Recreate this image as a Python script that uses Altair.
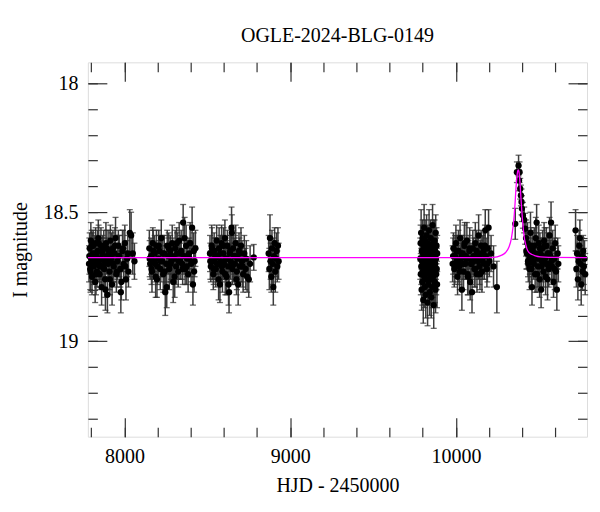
import altair as alt
import pandas as pd

# ---------------- data ----------------
S1_t = [7786, 7790, 7793, 7797, 7800, 7804, 7808, 7811, 7815, 7819, 7823, 7826, 7830, 7834, 7838,
        7842, 7846, 7850, 7854, 7858, 7862, 7866, 7870, 7875, 7879, 7883, 7888, 7892, 7897, 7901,
        7906, 7910, 7915, 7920, 7925, 7930, 7935, 7940, 7946, 7951, 7957, 7963, 7969, 7975, 7981,
        7988, 7995, 8002, 8009, 8016, 8024, 8032, 8040, 8050, 8060]
S1_m = [18.70, 18.64, 18.72, 18.61, 18.68, 18.75, 18.66, 18.63, 18.71, 18.69, 18.77, 18.62, 18.67, 18.73, 18.65,
        18.60, 18.70, 18.74, 18.68, 18.63, 18.79, 18.66, 18.71, 18.64, 18.69, 18.76, 18.62, 18.67, 18.82, 18.70,
        18.65, 18.73, 18.61, 18.68, 18.78, 18.64, 18.71, 18.66, 18.60, 18.74, 18.69, 18.63, 18.67, 18.72, 18.77,
        18.65, 18.70, 18.62, 18.76, 18.68, 18.73, 18.58, 18.59, 18.66, 18.69]
S1_e = [0.07, 0.06, 0.08, 0.07, 0.06, 0.07, 0.08, 0.06, 0.07, 0.07, 0.08, 0.06, 0.07, 0.06, 0.08,
        0.07, 0.07, 0.06, 0.08, 0.07, 0.07, 0.06, 0.08, 0.07, 0.06, 0.07, 0.08, 0.07, 0.07, 0.06,
        0.08, 0.07, 0.06, 0.07, 0.08, 0.07, 0.06, 0.07, 0.08, 0.07, 0.07, 0.06, 0.08, 0.07, 0.07,
        0.08, 0.06, 0.07, 0.08, 0.07, 0.06, 0.09, 0.09, 0.08, 0.07]
S1x_t = [7788, 7795, 7802, 7813, 7821, 7828, 7836, 7844, 7852, 7860, 7868, 7877, 7885, 7894, 7903,
         7912, 7922, 7932, 7943, 7954, 7966, 7978, 7991, 8005, 8020]
S1x_m = [18.67, 18.73, 18.63, 18.70, 18.66, 18.74, 18.69, 18.62, 18.71, 18.68, 18.65, 18.72, 18.80, 18.64, 18.69,
         18.76, 18.66, 18.70, 18.63, 18.73, 18.67, 18.81, 18.64, 18.71, 18.66]
S1x_e = [0.07, 0.08, 0.06, 0.07, 0.07, 0.08, 0.06, 0.07, 0.08, 0.07, 0.06, 0.07, 0.08, 0.07, 0.07,
         0.06, 0.08, 0.07, 0.07, 0.06, 0.08, 0.08, 0.07, 0.06, 0.07]

S2_t = [8150, 8155, 8160, 8166, 8171, 8177, 8182, 8188, 8193, 8199, 8205, 8210, 8216, 8222, 8228,
        8234, 8240, 8246, 8252, 8258, 8264, 8270, 8276, 8282, 8288, 8294, 8300, 8306, 8312, 8318,
        8324, 8330, 8336, 8342, 8348, 8354, 8360, 8366, 8372, 8378, 8384, 8390, 8396, 8402, 8408,
        8413, 8418, 8423, 8428]
S2_m = [18.64, 18.70, 18.67, 18.73, 18.62, 18.69, 18.66, 18.75, 18.63, 18.71, 18.68, 18.65, 18.72, 18.60, 18.69,
        18.74, 18.66, 18.81, 18.70, 18.63, 18.67, 18.72, 18.65, 18.69, 18.62, 18.77, 18.68, 18.64, 18.71, 18.66,
        18.73, 18.61, 18.69, 18.65, 18.70, 18.54, 18.67, 18.72, 18.63, 18.68, 18.74, 18.66, 18.62, 18.70, 18.56,
        18.78, 18.65, 18.69, 18.64]
S2_e = [0.07, 0.06, 0.07, 0.08, 0.06, 0.07, 0.07, 0.08, 0.06, 0.07, 0.07, 0.06, 0.08, 0.07, 0.06,
        0.07, 0.07, 0.09, 0.07, 0.06, 0.07, 0.08, 0.06, 0.07, 0.07, 0.08, 0.06, 0.07, 0.07, 0.08,
        0.06, 0.07, 0.07, 0.08, 0.06, 0.07, 0.07, 0.06, 0.08, 0.07, 0.07, 0.06, 0.08, 0.07, 0.08,
        0.08, 0.07, 0.06, 0.07]
S2x_t = [8152, 8163, 8174, 8185, 8196, 8207, 8219, 8231, 8243, 8255, 8267, 8279, 8291, 8303, 8315,
         8327, 8339, 8351, 8363, 8375, 8393, 8420]
S2x_m = [18.68, 18.72, 18.65, 18.70, 18.76, 18.63, 18.69, 18.66, 18.73, 18.79, 18.64, 18.70, 18.67, 18.75, 18.62,
         18.69, 18.66, 18.72, 18.60, 18.71, 18.68, 18.73]
S2x_e = [0.07, 0.06, 0.08, 0.07, 0.07, 0.06, 0.08, 0.07, 0.07, 0.08, 0.06, 0.07, 0.07, 0.08, 0.06,
         0.07, 0.07, 0.06, 0.08, 0.07, 0.07, 0.08]

S3_t = [8516, 8521, 8526, 8531, 8536, 8541, 8546, 8551, 8556, 8561, 8566, 8571, 8576, 8581, 8586,
        8591, 8596, 8601, 8606, 8611, 8616, 8621, 8626, 8631, 8636, 8641, 8646, 8651, 8656, 8661,
        8666, 8671, 8676, 8681, 8686, 8691, 8697, 8703, 8709, 8716, 8723, 8731, 8740, 8750, 8758, 8780]
S3_m = [18.66, 18.71, 18.63, 18.69, 18.74, 18.65, 18.68, 18.72, 18.61, 18.67, 18.70, 18.64, 18.78, 18.69, 18.62,
        18.73, 18.66, 18.70, 18.60, 18.68, 18.75, 18.63, 18.71, 18.81, 18.66, 18.69, 18.56, 18.72, 18.64, 18.67,
        18.70, 18.62, 18.76, 18.68, 18.78, 18.65, 18.71, 18.63, 18.69, 18.74, 18.66, 18.72, 18.75, 18.76, 18.70, 18.675]
S3_e = [0.07, 0.06, 0.08, 0.07, 0.06, 0.07, 0.08, 0.07, 0.06, 0.07, 0.07, 0.08, 0.07, 0.06, 0.07,
        0.08, 0.07, 0.06, 0.07, 0.08, 0.07, 0.06, 0.07, 0.08, 0.07, 0.07, 0.08, 0.06, 0.07, 0.07,
        0.08, 0.07, 0.06, 0.07, 0.08, 0.07, 0.06, 0.07, 0.08, 0.07, 0.07, 0.08, 0.06, 0.07, 0.07, 0.05]
S3x_t = [8518, 8528, 8538, 8548, 8558, 8568, 8578, 8588, 8598, 8608, 8618, 8628, 8638, 8648, 8658,
         8668, 8678, 8694, 8712, 8735]
S3x_m = [18.69, 18.64, 18.72, 18.67, 18.70, 18.76, 18.66, 18.71, 18.63, 18.74, 18.68, 18.78, 18.65, 18.58, 18.70,
         18.67, 18.73, 18.66, 18.71, 18.68]
S3x_e = [0.07, 0.08, 0.06, 0.07, 0.07, 0.08, 0.07, 0.06, 0.07, 0.08, 0.07, 0.08, 0.06, 0.07, 0.07,
         0.08, 0.07, 0.06, 0.08, 0.07]

S4_t = [8870, 8874, 8878, 8882, 8886, 8890, 8894, 8898, 8902, 8906, 8910, 8914, 8918, 8922, 8926, 8930]
S4_m = [18.66, 18.72, 18.60, 18.69, 18.75, 18.64, 18.70, 18.79, 18.67, 18.62, 18.73, 18.68, 18.65, 18.71, 18.63, 18.69]
S4_e = [0.07, 0.08, 0.09, 0.07, 0.06, 0.07, 0.08, 0.07, 0.07, 0.06, 0.08, 0.07, 0.07, 0.06, 0.07, 0.07]

S5_t = [9785, 9787, 9788, 9790, 9791, 9793, 9794, 9796, 9797, 9799, 9800, 9802, 9803, 9805, 9806,
        9808, 9809, 9811, 9812, 9814, 9815, 9817, 9818, 9820, 9821, 9823, 9824, 9826, 9827, 9829,
        9830, 9832, 9833, 9835, 9836, 9838, 9839, 9841, 9842, 9844, 9845, 9847, 9848, 9850, 9851,
        9853, 9854, 9856, 9857, 9859, 9860, 9862, 9863, 9865, 9866, 9868, 9869, 9871, 9872, 9874,
        9875, 9877, 9878, 9880, 9881, 9883, 9884, 9886, 9887]
S5_m = [18.68, 18.62, 18.74, 18.58, 18.71, 18.80, 18.65, 18.69, 18.77, 18.60, 18.73, 18.66, 18.84, 18.63, 18.70,
        18.56, 18.75, 18.67, 18.79, 18.61, 18.72, 18.68, 18.82, 18.64, 18.70, 18.59, 18.76, 18.66, 18.73, 18.85,
        18.62, 18.69, 18.78, 18.65, 18.71, 18.57, 18.74, 18.67, 18.81, 18.63, 18.70, 18.76, 18.60, 18.68, 18.83,
        18.66, 18.72, 18.64, 18.79, 18.55, 18.69, 18.75, 18.62, 18.71, 18.86, 18.67, 18.73, 18.61, 18.77, 18.65,
        18.70, 18.80, 18.58, 18.68, 18.74, 18.63, 18.72, 18.78, 18.66]
S5_e = [0.08, 0.07, 0.08, 0.09, 0.07, 0.08, 0.07, 0.08, 0.09, 0.07, 0.08, 0.07, 0.09, 0.08, 0.07,
        0.09, 0.08, 0.07, 0.08, 0.08, 0.07, 0.08, 0.09, 0.07, 0.08, 0.08, 0.07, 0.08, 0.09, 0.09,
        0.07, 0.08, 0.08, 0.07, 0.09, 0.08, 0.07, 0.08, 0.09, 0.07, 0.08, 0.08, 0.07, 0.09, 0.08,
        0.07, 0.08, 0.09, 0.08, 0.08, 0.07, 0.08, 0.09, 0.07, 0.09, 0.08, 0.07, 0.08, 0.08, 0.07,
        0.08, 0.09, 0.07, 0.08, 0.08, 0.07, 0.08, 0.09, 0.07]

S6_t = [9980, 9985, 9990, 9995, 10000, 10005, 10010, 10015, 10020, 10025, 10030, 10036, 10041, 10046, 10051,
        10056, 10061, 10066, 10071, 10076, 10081, 10086, 10091, 10097, 10102, 10107, 10112, 10117, 10122, 10127,
        10132, 10137, 10142, 10147, 10152, 10157, 10162, 10167, 10172, 10177, 10182, 10187, 10192, 10197, 10202,
        10212, 10227, 10247]
S6_m = [18.70, 18.64, 18.72, 18.67, 18.62, 18.69, 18.75, 18.65, 18.71, 18.60, 18.68, 18.80, 18.66, 18.73, 18.63,
        18.70, 18.67, 18.61, 18.74, 18.68, 18.65, 18.77, 18.70, 18.81, 18.64, 18.69, 18.72, 18.62, 18.67, 18.74,
        18.66, 18.59, 18.71, 18.68, 18.63, 18.73, 18.69, 18.65, 18.70, 18.57, 18.67, 18.72, 18.64, 18.56, 18.69,
        18.66, 18.71, 18.79]
S6_e = [0.07, 0.06, 0.07, 0.08, 0.07, 0.06, 0.07, 0.08, 0.07, 0.07, 0.06, 0.08, 0.07, 0.07, 0.08,
        0.06, 0.07, 0.07, 0.08, 0.07, 0.06, 0.07, 0.08, 0.08, 0.07, 0.06, 0.07, 0.08, 0.07, 0.07,
        0.06, 0.08, 0.07, 0.07, 0.06, 0.08, 0.07, 0.07, 0.06, 0.08, 0.07, 0.07, 0.08, 0.07, 0.06,
        0.07, 0.08, 0.10]
S6x_t = [9983, 9993, 10003, 10013, 10023, 10033, 10043, 10053, 10063, 10073, 10083, 10094, 10105, 10115, 10125,
         10135, 10145, 10160, 10175, 10190]
S6x_m = [18.67, 18.71, 18.65, 18.69, 18.73, 18.66, 18.70, 18.62, 18.68, 18.75, 18.64, 18.70, 18.67, 18.72, 18.65,
         18.69, 18.74, 18.66, 18.63, 18.70]
S6x_e = [0.07, 0.07, 0.06, 0.08, 0.07, 0.07, 0.06, 0.08, 0.07, 0.07, 0.08, 0.06, 0.07, 0.07, 0.08,
         0.07, 0.06, 0.07, 0.08, 0.07]

S7_t = [10358, 10368, 10378, 10381, 10384, 10388, 10392, 10396, 10398, 10404, 10412, 10418,
        10423, 10428, 10432, 10437, 10441, 10446, 10450, 10455, 10459, 10464, 10468, 10473, 10478, 10482, 10487,
        10491, 10496, 10500, 10505, 10509, 10514, 10519, 10523, 10528, 10532, 10537, 10541, 10546, 10551, 10555,
        10560, 10565, 10569, 10574, 10579, 10584, 10589, 10594, 10599, 10604, 10609, 10614, 10618]
S7_m = [18.545, 18.345, 18.319, 18.377, 18.345, 18.409, 18.435, 18.46, 18.486, 18.512, 18.53, 18.564,
        18.60, 18.66, 18.62, 18.70, 18.64, 18.68, 18.58, 18.72, 18.79, 18.65, 18.69, 18.63, 18.74, 18.60, 18.54,
        18.67, 18.71, 18.62, 18.76, 18.66, 18.80, 18.69, 18.64, 18.73, 18.61, 18.68, 18.75, 18.63, 18.70, 18.66,
        18.72, 18.59, 18.67, 18.54, 18.71, 18.64, 18.77, 18.68, 18.62, 18.73, 18.80, 18.66, 18.70]
S7_e = [0.06, 0.04, 0.04, 0.04, 0.04, 0.04, 0.04, 0.05, 0.05, 0.05, 0.05, 0.06,
        0.07, 0.06, 0.08, 0.07, 0.07, 0.06, 0.08, 0.07, 0.07, 0.08, 0.06, 0.07, 0.07, 0.08, 0.07,
        0.06, 0.08, 0.07, 0.07, 0.06, 0.07, 0.08, 0.07, 0.06, 0.07, 0.08, 0.07, 0.07, 0.06, 0.08,
        0.07, 0.07, 0.06, 0.08, 0.07, 0.07, 0.06, 0.08, 0.07, 0.07, 0.08, 0.06, 0.07]
S7x_t = [10425, 10435, 10444, 10452, 10461, 10470, 10480, 10489, 10498, 10507, 10516, 10526, 10535, 10544, 10553,
         10563, 10577, 10596]
S7x_m = [18.65, 18.69, 18.72, 18.63, 18.67, 18.70, 18.66, 18.74, 18.68, 18.64, 18.71, 18.67, 18.63, 18.70, 18.76,
         18.66, 18.69, 18.72]
S7x_e = [0.07, 0.06, 0.08, 0.07, 0.07, 0.06, 0.08, 0.07, 0.07, 0.06, 0.08, 0.07, 0.07, 0.06, 0.08,
         0.07, 0.07, 0.08]

S8_t = [10722, 10727, 10731, 10736, 10740, 10744, 10748, 10752, 10756, 10760, 10764, 10768, 10772, 10776, 10780]
S8_m = [18.57, 18.72, 18.66, 18.76, 18.69, 18.63, 18.60, 18.70, 18.78, 18.67, 18.73, 18.65, 18.71, 18.68, 18.74]
S8_e = [0.08, 0.07, 0.07, 0.08, 0.07, 0.06, 0.07, 0.07, 0.08, 0.07, 0.07, 0.06, 0.07, 0.07, 0.08]

# model light curve
MODEL_T = [7779, 10150, 10227, 10270, 10300, 10320, 10335, 10345, 10352, 10358, 10363, 10368, 10372, 10376, 10380,
           10384, 10388, 10392, 10397, 10402, 10407, 10412, 10420, 10428, 10440, 10459, 10480, 10509, 10560, 10791]
MODEL_M = [18.676, 18.676, 18.675, 18.668, 18.656, 18.635, 18.60, 18.555, 18.51, 18.454, 18.40, 18.364, 18.343, 18.336, 18.342,
           18.364, 18.40, 18.441, 18.49, 18.532, 18.567, 18.596, 18.622, 18.641, 18.656, 18.664, 18.669, 18.673, 18.675, 18.676]

# axis ticks
X_MAJOR = [8000, 9000, 10000]
X_MINOR = [7800, 8000, 8200, 8400, 8600, 8800, 9000, 9200, 9400, 9600, 9800, 10000, 10200, 10400, 10600]
Y_MAJOR = [18.0, 18.5, 19.0]
Y_MINOR = [18.0, 18.1, 18.2, 18.3, 18.4, 18.5, 18.6, 18.7, 18.8, 18.9, 19.0, 19.1, 19.2, 19.3]

X_DOMAIN = [7779, 10791]
Y_DOMAIN = [17.919, 19.370]

# ---------------- build tables ----------------
seasons = [(S1_t, S1_m, S1_e), (S1x_t, S1x_m, S1x_e), (S2_t, S2_m, S2_e), (S2x_t, S2x_m, S2x_e),
           (S3_t, S3_m, S3_e), (S3x_t, S3x_m, S3x_e), (S4_t, S4_m, S4_e), (S5_t, S5_m, S5_e),
           (S6_t, S6_m, S6_e), (S6x_t, S6x_m, S6x_e), (S7_t, S7_m, S7_e), (S7x_t, S7x_m, S7x_e),
           (S8_t, S8_m, S8_e)]
rows = []
for ts, ms, es in seasons:
    for t, m, e in zip(ts, ms, es):
        rows.append({"t": t, "m": m, "lo": m - e, "hi": m + e})
df = pd.DataFrame(rows)
model_df = pd.DataFrame({"t": MODEL_T, "m": MODEL_M})
anchor_df = pd.DataFrame({"t": [9000], "m": [18.5]})

W, H = 500, 375
FONT = "Liberation Serif"
FS = 20
TICK_COLOR = "#333333"
XT = "HJD - 2450000"
YT = "I magnitude"

xs = alt.Scale(domain=X_DOMAIN, nice=False, zero=False)
ys = alt.Scale(domain=Y_DOMAIN, reverse=True, nice=False, zero=False)

x_axis_main = alt.Axis(orient="bottom", values=X_MAJOR, ticks=False, tickSize=0, domain=False, grid=False,
                       labelFont=FONT, labelFontSize=FS, labelColor="black", labelPadding=26,
                       labelBaseline="alphabetic", labelFlush=False, format="d",
                       titleFont=FONT, titleFontSize=FS, titleFontWeight="normal", titleColor="black",
                       titleX=W / 2, titleY=55, titleBaseline="alphabetic", titleAlign="center")
y_axis_main = alt.Axis(orient="left", values=Y_MAJOR, ticks=False, tickSize=0, domain=False, grid=False,
                       labelFont=FONT, labelFontSize=FS, labelColor="black", labelPadding=10,
                       labelFlush=False, format="~g",
                       titleFont=FONT, titleFontSize=FS, titleFontWeight="normal", titleColor="black",
                       titleX=-61, titleY=H / 2, titleBaseline="alphabetic", titleAlign="center", titleAngle=270)

xm = alt.X("t:Q", scale=xs, axis=x_axis_main, title=XT)

base = alt.Chart(df)
bars = base.mark_rule(color="#3c3c3c", strokeWidth=1.5).encode(
    x=xm, y=alt.Y("lo:Q", scale=ys, axis=y_axis_main, title=YT), y2="hi:Q")
caps_lo = base.mark_tick(color="#2a2a2a", orient="horizontal", size=6, thickness=1.3).encode(
    x=xm, y=alt.Y("lo:Q", scale=ys, axis=y_axis_main, title=YT))
caps_hi = base.mark_tick(color="#2a2a2a", orient="horizontal", size=6, thickness=1.3).encode(
    x=xm, y=alt.Y("hi:Q", scale=ys, axis=y_axis_main, title=YT))
points = base.mark_circle(color="black", opacity=1, size=40).encode(
    x=xm, y=alt.Y("m:Q", scale=ys, axis=y_axis_main, title=YT))
line = alt.Chart(model_df).mark_line(color="#ff00ff", strokeWidth=1.3, interpolate="monotone", clip=True).encode(
    x=xm, y=alt.Y("m:Q", scale=ys, axis=y_axis_main, title=YT))

main = alt.layer(bars, caps_lo, caps_hi, points, line)


def tick_axis(orient, offset, values, size):
    return alt.Axis(orient=orient, offset=offset, values=values, tickSize=size, ticks=True,
                    labels=False, domain=False, grid=False, tickColor=TICK_COLOR, tickWidth=1.2)


def tick_layer(xo, yo, xv, yv, size):
    return alt.Chart(anchor_df).mark_point(opacity=0).encode(
        x=alt.X("t:Q", scale=xs, axis=tick_axis(xo, -H, xv, size), title=None),
        y=alt.Y("m:Q", scale=ys, axis=tick_axis(yo, -W, yv, size), title=None))


t1 = tick_layer("top", "right", X_MAJOR, Y_MAJOR, 19)     # bottom / left edges, inward
t2 = tick_layer("top", "right", X_MINOR, Y_MINOR, 9.5)
t3 = tick_layer("bottom", "left", X_MAJOR, Y_MAJOR, 19)   # top / right edges, inward
t4 = tick_layer("bottom", "left", X_MINOR, Y_MINOR, 9.5)

chart = alt.layer(main, t1, t2, t3, t4).resolve_scale(
    x="independent", y="independent"
).properties(
    width=W, height=H,
    padding={"left": 80, "top": 54, "right": 5, "bottom": 70},
    autosize=alt.AutoSizeParams(type="none"),
    title=alt.TitleParams("OGLE-2024-BLG-0149", font=FONT, fontSize=FS, fontWeight="normal",
                          color="black", anchor="middle", offset=0, baseline="alphabetic"),
).configure_view(stroke="#222222", strokeWidth=1.5).configure(background="white")

chart.save("out.html", embed_options={"renderer": "svg", "actions": False})
